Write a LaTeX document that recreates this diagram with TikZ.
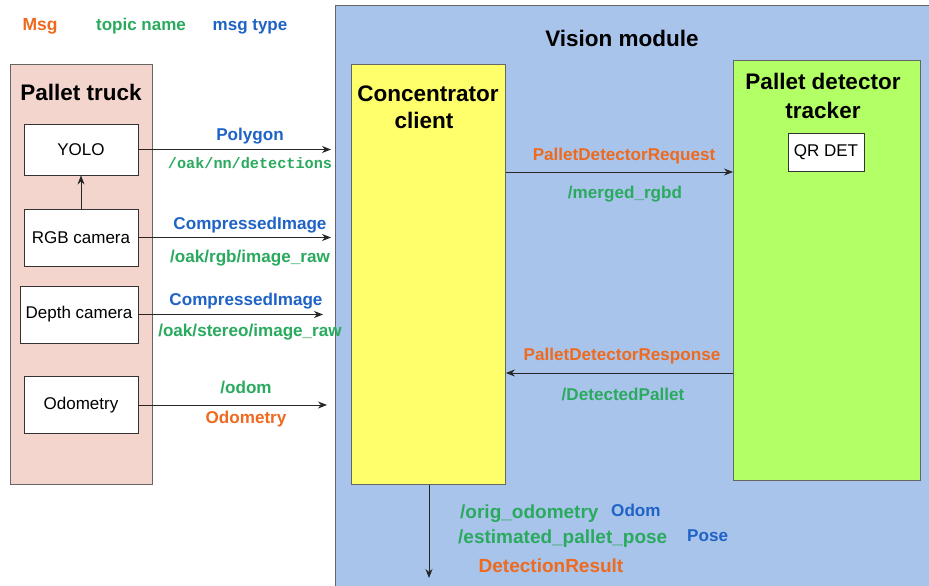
\documentclass[tikz,border=0pt]{standalone}
\usepackage{fontspec}
\setmainfont{Liberation Sans}
\setmonofont{Liberation Mono}
\usetikzlibrary{arrows.meta}
\definecolor{cOrange}{HTML}{EE6A1E}
\definecolor{cGreen}{HTML}{2AAA5E}
\definecolor{cBlue}{HTML}{1F63C6}
\definecolor{cPink}{HTML}{F3D5CD}
\definecolor{cVis}{HTML}{A9C4EB}
\definecolor{cYellow}{HTML}{FFFF6B}
\definecolor{cLime}{HTML}{B3FF66}
\definecolor{cEdge}{HTML}{666666}
\tikzset{
  container/.style={draw=cEdge, line width=0.9pt, inner sep=0, anchor=north west},
  box/.style={draw=black!80, fill=white, line width=0.9pt, inner sep=0,
    font=\fontsize{17}{19}\selectfont},
  title/.style={inner sep=0, anchor=base, font=\fontsize{22.5}{25}\selectfont\bfseries},
  lbl/.style={inner sep=0, anchor=base, font=\fontsize{17.1}{19}\selectfont\bfseries},
  biglbl/.style={inner sep=0, anchor=base west, font=\fontsize{19}{21}\selectfont\bfseries},
  monolbl/.style={inner sep=0, anchor=base, text=cGreen, font=\fontsize{15.2}{17}\selectfont\ttfamily\bfseries},
  msg/.style={lbl, text=cOrange},
  topic/.style={lbl, text=cGreen},
  mtype/.style={lbl, text=cBlue},
  arr/.style={draw=black!85, line width=0.9pt, -{Stealth[length=9pt,width=7pt]}}
}
\begin{document}
\begin{tikzpicture}[x=1pt,y=-1pt]
\useasboundingbox (0,0) rectangle (929,586);
\clip (0,0) rectangle (929,586);
\fill[white] (0,0) rectangle (929,586);

% legend
\node[lbl, text=cOrange, font=\fontsize{17.5}{19}\selectfont\bfseries] (lgmsg) at (40,31) {Msg};
\node[lbl, text=cGreen, font=\fontsize{17}{19}\selectfont\bfseries] (lgtopic) at (141,31) {topic name};
\node[lbl, text=cBlue, font=\fontsize{17}{19}\selectfont\bfseries] (lgtype) at (250,31) {msg type};

% containers
\node[container, fill=cPink, minimum width=142, minimum height=420] (truck) at (10,64) {};
\node[title] (trucktitle) at (81,100) {Pallet truck};

\node[container, fill=cVis, minimum width=600, minimum height=590] (vm) at (335,5) {};
\node[title] (vmtitle) at (622,47) {Vision module};

\node[container, fill=cYellow, minimum width=154, minimum height=420] (conc) at (351,64) {};
\node[title] (conctitle1) at (428,101) {Concentrator};
\node[title] (conctitle2) at (424,128) {client};

\node[container, fill=cLime, minimum width=187, minimum height=420] (trk) at (733,60) {};
\node[title] (trktitle1) at (823,89) {Pallet detector};
\node[title] (trktitle2) at (823,118) {tracker};
\node[box, minimum width=76, minimum height=38] (qr) at (826,152) {QR DET};

% sensors
\node[box, minimum width=114, minimum height=51] (yolo) at (81,149.5) {YOLO};
\node[box, minimum width=114, minimum height=57] (rgb) at (81,237.5) {RGB camera};
\node[box, minimum width=118, minimum height=57] (depth) at (79,314.5) {Depth camera};
\node[box, minimum width=114, minimum height=57] (odo) at (81,405) {Odometry};

\draw[arr] (rgb.north) -- (yolo.south);

% sensor arrows
\draw[arr] (yolo.east) -- ([xshift=-4pt]yolo.east -| vm.west);
\draw[arr] (rgb.east) -- ([xshift=-4pt]rgb.east -| vm.west);
\draw[arr] (depth.east) -- ([xshift=-12pt]depth.east -| vm.west);
\draw[arr] (odo.east) -- ([xshift=-8pt]odo.east -| vm.west);

\node[mtype] (l1) at (250,140) {Polygon};
\node[monolbl] (l2) at (250,168) {/oak/nn/detections};
\node[mtype] (l3) at (250,229) {CompressedImage};
\node[topic] (l4) at (250,262) {/oak/rgb/image\_raw};
\node[mtype] (l5) at (246,305) {CompressedImage};
\node[topic] (l6) at (250,336) {/oak/stereo/image\_raw};
\node[topic] (l7) at (246,393) {/odom};
\node[msg] (l8) at (246,423) {Odometry};

% request / response
\coordinate (rqA) at (505,172);
\coordinate (rsA) at (505,373);
\draw[arr] (rqA -| conc.east) -- (rqA -| trk.west);
\draw[arr] (rsA -| trk.west) -- (rsA -| conc.east);
\node[msg] (l9) at (624,160) {PalletDetectorRequest};
\node[topic] (l10) at (625,198) {/merged\_rgbd};
\node[msg] (l11) at (622,360) {PalletDetectorResponse};
\node[topic] (l12) at (623,400) {/DetectedPallet};

% output
\coordinate (outEnd) at (429,578);
\draw[arr] (conc.south -| outEnd) -- (outEnd);
\node[biglbl, text=cGreen] (l13) at (460,518) {/orig\_odometry};
\node[mtype, anchor=base west] (l14) at (611,516) {Odom};
\node[biglbl, text=cGreen] (l15) at (458,543) {/estimated\_pallet\_pose};
\node[mtype, anchor=base west] (l16) at (687,541) {Pose};
\node[biglbl, text=cOrange, anchor=base] (l17) at (551,572) {DetectionResult};
\end{tikzpicture}
\end{document}
